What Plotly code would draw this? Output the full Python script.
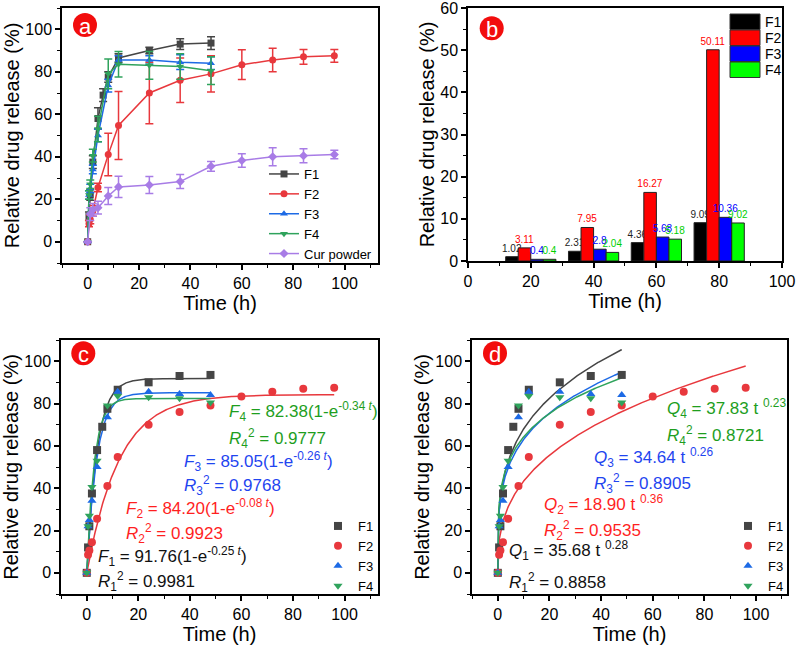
import numpy as np
import plotly.graph_objects as go

# ---- data ----
t_f1 = [0, 0.5, 1, 2, 4, 6, 8, 12, 24, 36, 48]
f1 = [0, 12, 22, 37.5, 58, 69, 77.5, 86.5, 90, 93, 93.5]
f1_err = [0, 2, 2.5, 3, 5, 3, 2.5, 2, 1.5, 2.5, 3]

t_f2 = [0, 0.5, 1, 2, 4, 8, 12, 24, 36, 48, 60, 72, 84, 96]
f2 = [0, 8.5, 10.5, 14.5, 25.5, 41, 54.7, 70, 76, 79, 83.3, 85.5, 87, 87.5]
f2_err = [0, 1.5, 2, 2.5, 2, 10, 16, 14.5, 10.5, 8.5, 7, 5.5, 3.5, 3]

t_f3 = [0, 0.5, 1, 2, 4, 8, 12, 24, 36, 48]
f3 = [0, 22, 25, 34, 50, 73.5, 85.5, 85.5, 84.5, 84]
f3_err = [0, 2, 2, 2, 3, 3, 2, 2, 3.5, 3]

t_f4 = [0, 0.5, 1, 2, 4, 8, 12, 24, 36, 48]
f4 = [0, 22, 27, 40.5, 53, 79, 83.5, 83, 82.5, 80.5]
f4_err = [0, 2, 2, 3, 6, 7, 6, 6.5, 6, 6.5]

t_cur = [0, 1, 2, 4, 8, 12, 24, 36, 48, 60, 72, 84, 96]
cur = [0, 13, 15, 16, 21.5, 25.8, 26.7, 28.3, 35.5, 38.2, 40, 40.5, 41]
cur_err = [0, 3, 3, 3, 4, 5, 4, 3.3, 2.3, 3.2, 4.2, 3.3, 2]

# panel b
b_time = [20, 40, 60, 80]
b_f1 = [1.02, 2.31, 4.36, 9.09]
b_f2 = [3.11, 7.95, 16.27, 50.11]
b_f3 = [0.4, 2.8, 5.68, 10.36]
b_f4 = [0.4, 2.04, 5.18, 9.02]

# fitted parameters (first order, Korsmeyer-Peppas)
fo_A = [91.76, 84.20, 85.05, 82.38]
fo_k = [0.25, 0.08, 0.26, 0.34]
fo_R2 = ["0.9981", "0.9923", "0.9768", "0.9777"]
kp_a = [35.68, 18.90, 34.64, 37.83]
kp_n = [0.28, 0.36, 0.26, 0.23]
kp_R2 = ["0.8858", "0.9535", "0.8905", "0.8721"]
fit_tmax = [48, 96, 48, 48]

names = ["F1", "F2", "F3", "F4"]
series_t = [t_f1, t_f2, t_f3, t_f4]
series_y = [f1, f2, f3, f4]
series_e = [f1_err, f2_err, f3_err, f4_err]

cols = ["#454545", "#e8383d", "#1d6ae5", "#2fa35c"]
purple = "#a87ce6"
symbols = ["square", "circle", "triangle-up", "triangle-down"]
bar_cols = ["#000000", "#ff0000", "#0000ff", "#00ff00"]
bar_txt = ["#222222", "#ff0000", "#0000ff", "#00d000"]
eq_cols = ["#111111", "#ff1f1f", "#1f45f0", "#1e9e1e"]

W, H = 797, 647
FONT = "Arial, Liberation Sans, sans-serif"

fig = go.Figure()

# ---- panel a ----
for i in range(4):
    fig.add_trace(go.Scatter(
        x=series_t[i], y=series_y[i], name=names[i], mode="lines+markers",
        line=dict(color=cols[i], width=1.5),
        marker=dict(symbol=symbols[i], size=7, color=cols[i]),
        error_y=dict(type="data", array=series_e[i], color=cols[i], thickness=1.5, width=4),
        xaxis="x", yaxis="y", legend="legend"))
fig.add_trace(go.Scatter(
    x=t_cur, y=cur, name="Cur powder", mode="lines+markers",
    line=dict(color=purple, width=1.5),
    marker=dict(symbol="diamond", size=7, color=purple),
    error_y=dict(type="data", array=cur_err, color=purple, thickness=1.5, width=4),
    xaxis="x", yaxis="y", legend="legend"))

# ---- panel b ----
b_vals = [b_f1, b_f2, b_f3, b_f4]
for i in range(4):
    fig.add_trace(go.Bar(
        x=b_time, y=b_vals[i], name=names[i],
        marker=dict(color=bar_cols[i], line=dict(color="#222222", width=1)),
        text=[str(v) for v in b_vals[i]], textposition="outside",
        textfont=dict(color=bar_txt[i], size=10), constraintext="none",
        cliponaxis=False, showlegend=False, xaxis="x2", yaxis="y2"))

# ---- panel c: first-order fits ----
for i in range(4):
    tt = np.linspace(0, fit_tmax[i], 300)
    fig.add_trace(go.Scatter(
        x=tt, y=fo_A[i] * (1 - np.exp(-fo_k[i] * tt)), mode="lines",
        line=dict(color=cols[i], width=1.5), showlegend=False,
        xaxis="x3", yaxis="y3"))
for i in range(4):
    fig.add_trace(go.Scatter(
        x=series_t[i], y=series_y[i], name=names[i], mode="markers",
        marker=dict(symbol=symbols[i], size=8, color=cols[i]),
        xaxis="x3", yaxis="y3", legend="legend2"))

# ---- panel d: Korsmeyer-Peppas fits ----
for i in range(4):
    tt = np.linspace(0, fit_tmax[i], 400)
    fig.add_trace(go.Scatter(
        x=tt, y=kp_a[i] * tt ** kp_n[i], mode="lines",
        line=dict(color=cols[i], width=1.5), showlegend=False,
        xaxis="x4", yaxis="y4"))
for i in range(4):
    fig.add_trace(go.Scatter(
        x=series_t[i], y=series_y[i], name=names[i], mode="markers",
        marker=dict(symbol=symbols[i], size=8, color=cols[i]),
        xaxis="x4", yaxis="y4", legend="legend3"))


def px_x(p):
    return p / W


def px_y(p):
    return 1 - p / H


def axis(domain, rng, dtick, minor, title, anchor, standoff):
    return dict(
        domain=domain, range=rng, dtick=dtick, tick0=0, anchor=anchor,
        showline=True, mirror=True, linecolor="black", linewidth=1.5,
        ticks="outside", ticklen=5, tickwidth=1.5, tickcolor="black",
        minor=dict(ticks="outside", ticklen=3, tickwidth=1.2, tickcolor="black", dtick=minor),
        showgrid=False, zeroline=False, automargin=False, ticklabeloverflow="allow",
        tickfont=dict(size=16, color="black"),
        title=dict(text=title, font=dict(size=20, color="black"), standoff=standoff))


layout_axes = dict(
    xaxis=axis([px_x(62), px_x(378)], [-10, 113], 20, 10, "Time (h)", "y", 5),
    yaxis=axis([px_y(263), px_y(8)], [-10, 110], 20, 10, "Relative drug release (%)", "x", 0),
    xaxis2=axis([px_x(468), px_x(782)], [0, 100.01], 20, 10, "Time (h)", "y2", 5),
    yaxis2=axis([px_y(261), px_y(8)], [0, 60.02], 10, 5, "Relative drug release (%)", "x2", 0),
    xaxis3=axis([px_x(61), px_x(378)], [-10, 113], 20, 10, "Time (h)", "y3", 5),
    yaxis3=axis([px_y(594), px_y(340)], [-10, 110], 20, 10, "Relative drug release (%)", "x3", 0),
    xaxis4=axis([px_x(472), px_x(787)], [-10, 112], 20, 10, "Time (h)", "y4", 5),
    yaxis4=axis([px_y(594), px_y(340)], [-10, 110], 20, 10, "Relative drug release (%)", "x4", 0),
)

leg = dict(bgcolor="rgba(0,0,0,0)", borderwidth=0, font=dict(size=13, color="black"),
           itemwidth=30, yanchor="middle", xanchor="left", tracegroupgap=0)

shapes = []
annotations = []

# panel letters
for letter, cx, cy in [("a", 85, 25), ("b", 491.7, 28.3), ("c", 83.3, 353.3), ("d", 495, 353.3)]:
    shapes.append(dict(type="circle", xref="paper", yref="paper",
                       x0=px_x(cx - 12), x1=px_x(cx + 12), y0=px_y(cy + 12), y1=px_y(cy - 12),
                       fillcolor="#f20d0d", line=dict(width=0)))
    annotations.append(dict(text=letter, xref="paper", yref="paper", x=px_x(cx), y=px_y(cy + 1),
                            showarrow=False, font=dict(size=22, color="white"),
                            xanchor="center", yanchor="middle"))

# manual legend for panel b (wide boxes)
for i in range(4):
    y0 = 14 + i * 16
    shapes.append(dict(type="rect", xref="paper", yref="paper",
                       x0=px_x(730), x1=px_x(760), y0=px_y(y0 + 15.5), y1=px_y(y0),
                       fillcolor=bar_cols[i], line=dict(color="#333333", width=1)))
    annotations.append(dict(text=names[i], xref="paper", yref="paper", x=px_x(763), y=px_y(y0 + 8),
                            showarrow=False, xanchor="left", yanchor="middle",
                            font=dict(size=14, color="black")))

# equations panel c
c_pos = [(3.5, 7.8, -3.9), (14.6, 30.6, 18.8), (36.8, 52.5, 41.2), (54.5, 76.4, 63.6)]
for i in range(4):
    x, ye, yr = c_pos[i]
    n = i + 1
    annotations.append(dict(
        text=f"<i>F</i><sub>{n}</sub> = {fo_A[i]:.2f}(1-e<sup>-{fo_k[i]:.2f} <i>t</i></sup>)",
        xref="x3", yref="y3", x=x, y=ye, showarrow=False, xanchor="left", yanchor="middle",
        font=dict(size=17, color=eq_cols[i])))
    annotations.append(dict(
        text=f"<i>R</i><sub>{n}</sub><sup>2</sup> = {fo_R2[i]}",
        xref="x3", yref="y3", x=x, y=yr, showarrow=False, xanchor="left", yanchor="middle",
        font=dict(size=17, color=eq_cols[i])))

# equations panel d
d_pos = [(3.6, 10.6, -4.4), (17.0, 32.2, 20.0), (36.5, 54.7, 42.1), (64.7, 77.6, 65.0)]
for i in range(4):
    x, ye, yr = d_pos[i]
    n = i + 1
    annotations.append(dict(
        text=f"<i>Q</i><sub>{n}</sub> = {kp_a[i]:.2f} t <sup>{kp_n[i]:.2f}</sup>",
        xref="x4", yref="y4", x=x, y=ye, showarrow=False, xanchor="left", yanchor="middle",
        font=dict(size=17, color=eq_cols[i])))
    annotations.append(dict(
        text=f"<i>R</i><sub>{n}</sub><sup>2</sup> = {kp_R2[i]}",
        xref="x4", yref="y4", x=x, y=yr, showarrow=False, xanchor="left", yanchor="middle",
        font=dict(size=17, color=eq_cols[i])))

fig.update_layout(
    width=W, height=H, template="none",
    paper_bgcolor="white", plot_bgcolor="white",
    margin=dict(l=0, r=0, t=0, b=0),
    font=dict(family=FONT, color="black"),
    barmode="group", bargap=0.2, bargroupgap=0,
    legend=dict(leg, x=px_x(264), y=px_y(214)),
    legend2=dict(leg, x=px_x(318), y=px_y(556)),
    legend3=dict(leg, x=px_x(728), y=px_y(556)),
    shapes=shapes, annotations=annotations,
    **layout_axes,
)

# the page body has a default 8px margin; drop it so the figure fills the window
fig.write_html("out.html", config={"displayModeBar": False},
               post_script="document.body.style.margin='0';")
